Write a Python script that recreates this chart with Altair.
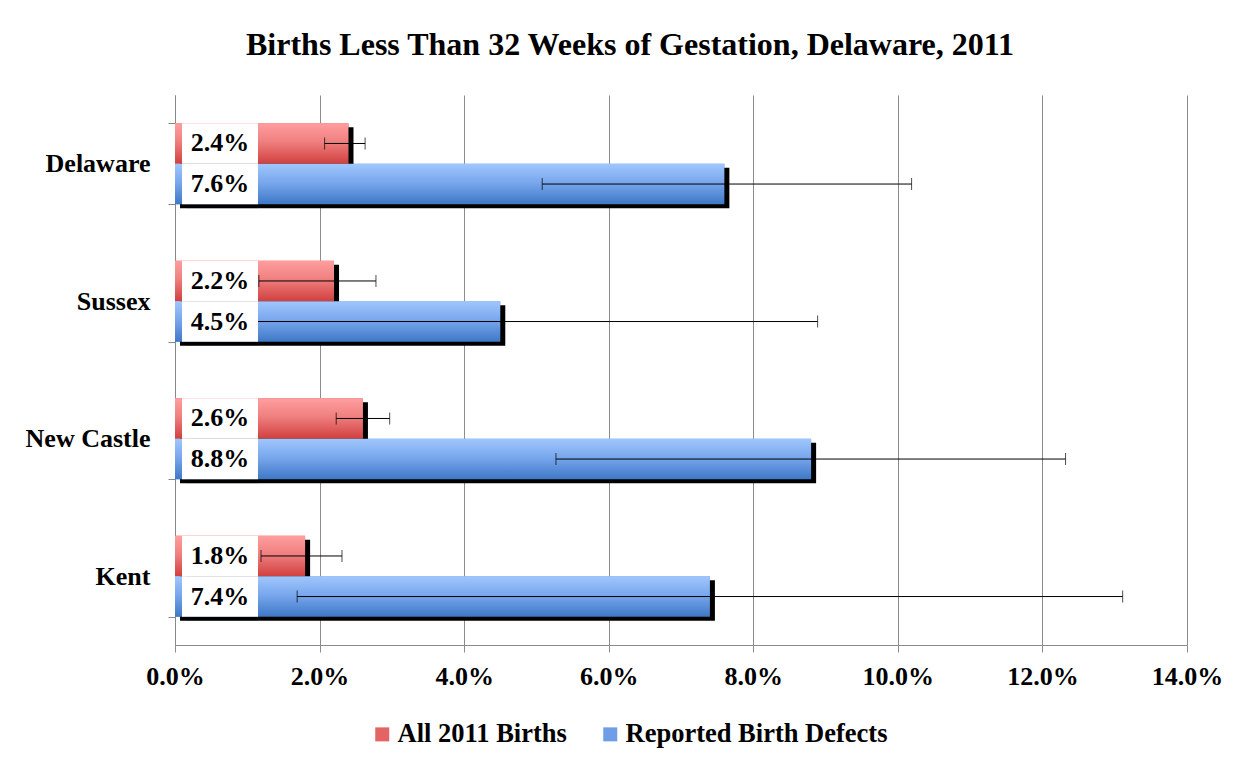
import altair as alt
import pandas as pd

categories = ["Delaware", "Sussex", "New Castle", "Kent"]
series = ["All 2011 Births", "Reported Birth Defects"]

all_births = [0.024, 0.022, 0.026, 0.018]
all_lo = [0.0207, 0.0116, 0.0223, 0.0119]
all_hi = [0.0263, 0.0278, 0.0297, 0.0231]

defects = [0.076, 0.045, 0.088, 0.074]
def_lo = [0.0508, 0.0011, 0.0527, 0.0169]
def_hi = [0.1019, 0.0889, 0.1232, 0.1311]

x_ticks = [0.0, 0.02, 0.04, 0.06, 0.08, 0.10, 0.12, 0.14]

rows = []
for i, c in enumerate(categories):
    rows.append(dict(cat=c, series=series[0], value=all_births[i], lo=all_lo[i], hi=all_hi[i]))
    rows.append(dict(cat=c, series=series[1], value=defects[i], lo=def_lo[i], hi=def_hi[i]))
df = pd.DataFrame(rows)

FONT = "Liberation Serif"

red_grad = alt.Gradient(gradient="linear", x1=0, x2=0, y1=0, y2=1,
                        stops=[alt.GradientStop(color="#FF9E9E", offset=0),
                               alt.GradientStop(color="#F08080", offset=0.45),
                               alt.GradientStop(color="#D0403E", offset=1)])
blue_grad = alt.Gradient(gradient="linear", x1=0, x2=0, y1=0, y2=1,
                         stops=[alt.GradientStop(color="#A0C6FC", offset=0),
                                alt.GradientStop(color="#7AA8EE", offset=0.45),
                                alt.GradientStop(color="#3E78C6", offset=1)])

y_enc = alt.Y("cat:N", sort=categories,
              scale=alt.Scale(domain=categories, paddingInner=0.41, paddingOuter=0.205),
              axis=alt.Axis(title=None, labelFont=FONT, labelFontWeight="bold", labelFontSize=26,
                            labelColor="black", tickBand="extent", tickColor="#888888", tickSize=7,
                            labelPadding=18, domainColor="#888888", grid=False))
yoff = alt.YOffset("series:N", sort=series, scale=alt.Scale(domain=series))
# shifted offset scale for drop shadows (4px lower)
yoff_shadow = alt.YOffset("series:N", sort=series, scale=alt.Scale(domain=series, range=[4, 85]))

x_axis = alt.Axis(title=None, format=".1%", values=x_ticks, grid=True,
                  gridColor="#8c8c8c", gridWidth=1, domainColor="#8c8c8c",
                  tickColor="#8c8c8c", tickSize=7, labelFont=FONT,
                  labelFontWeight="bold", labelFontSize=26, labelColor="black",
                  labelPadding=11, labelBaseline="top", labelFlush=False,
                  labelOverlap=False, labelBound=False)
x_scale = alt.Scale(domain=[0, 0.14], nice=False)


def X(field):
    return alt.X(field, scale=x_scale, axis=x_axis)


base = alt.Chart(df)

legend_bars = base.mark_bar().encode(
    x=X("value:Q"), y=y_enc, yOffset=yoff,
    color=alt.Color("series:N", sort=series,
                    scale=alt.Scale(domain=series, range=["#E46464", "#6E9EE6"]),
                    legend=alt.Legend(title=None, orient="none", legendX=194, legendY=626,
                                      direction="horizontal", symbolType="square", symbolSize=196,
                                      symbolStrokeWidth=0, labelFont=FONT, labelFontWeight="bold",
                                      labelFontSize=26.5, labelColor="black", labelLimit=0,
                                      columnPadding=30, labelOffset=2)))

shadow = base.mark_bar(color="black", xOffset=5).encode(
    x=X("value:Q"), y=y_enc, yOffset=yoff_shadow)

red_bars = base.transform_filter(alt.datum.series == series[0]).mark_bar(fill=red_grad).encode(
    x=X("value:Q"), y=y_enc, yOffset=yoff)
blue_bars = base.transform_filter(alt.datum.series == series[1]).mark_bar(fill=blue_grad).encode(
    x=X("value:Q"), y=y_enc, yOffset=yoff)

err_line = base.mark_rule(color="black", strokeWidth=1).encode(
    x=X("lo:Q"), x2="hi:Q", y=y_enc, yOffset=yoff)
cap_lo = base.mark_tick(color="black", thickness=1, size=12, orient="vertical").encode(
    x=X("lo:Q"), y=y_enc, yOffset=yoff)
cap_hi = base.mark_tick(color="black", thickness=1, size=12, orient="vertical").encode(
    x=X("hi:Q"), y=y_enc, yOffset=yoff)

box_shadow = base.mark_bar(color="black", opacity=0.25, xOffset=4).encode(
    x=alt.value(7), x2=alt.value(83), y=y_enc, yOffset=yoff_shadow)
box = base.mark_bar(color="white").encode(
    x=alt.value(7), x2=alt.value(83), y=y_enc, yOffset=yoff)
labels = base.mark_text(font=FONT, fontWeight="bold", fontSize=26, color="black",
                        align="center", baseline="middle").encode(
    x=alt.value(45), y=y_enc, yOffset=yoff, text=alt.Text("value:Q", format=".1%"))

chart = alt.layer(
    legend_bars, shadow, red_bars, blue_bars, err_line, cap_lo, cap_hi, box_shadow, box, labels
).resolve_scale(yOffset="independent").properties(
    width=1012, height=550,
    title=alt.TitleParams("Births Less Than 32 Weeks of Gestation, Delaware, 2011",
                          font=FONT, fontSize=32, fontWeight="bold", color="black",
                          anchor="middle", dx=-51, offset=20),
    autosize=alt.AutoSizeParams(type="none"),
    padding={"left": 167, "top": 87, "right": 50, "bottom": 110},
).configure_view(stroke=None)

chart.save("out.html", embed_options={"renderer": "svg", "actions": False})
